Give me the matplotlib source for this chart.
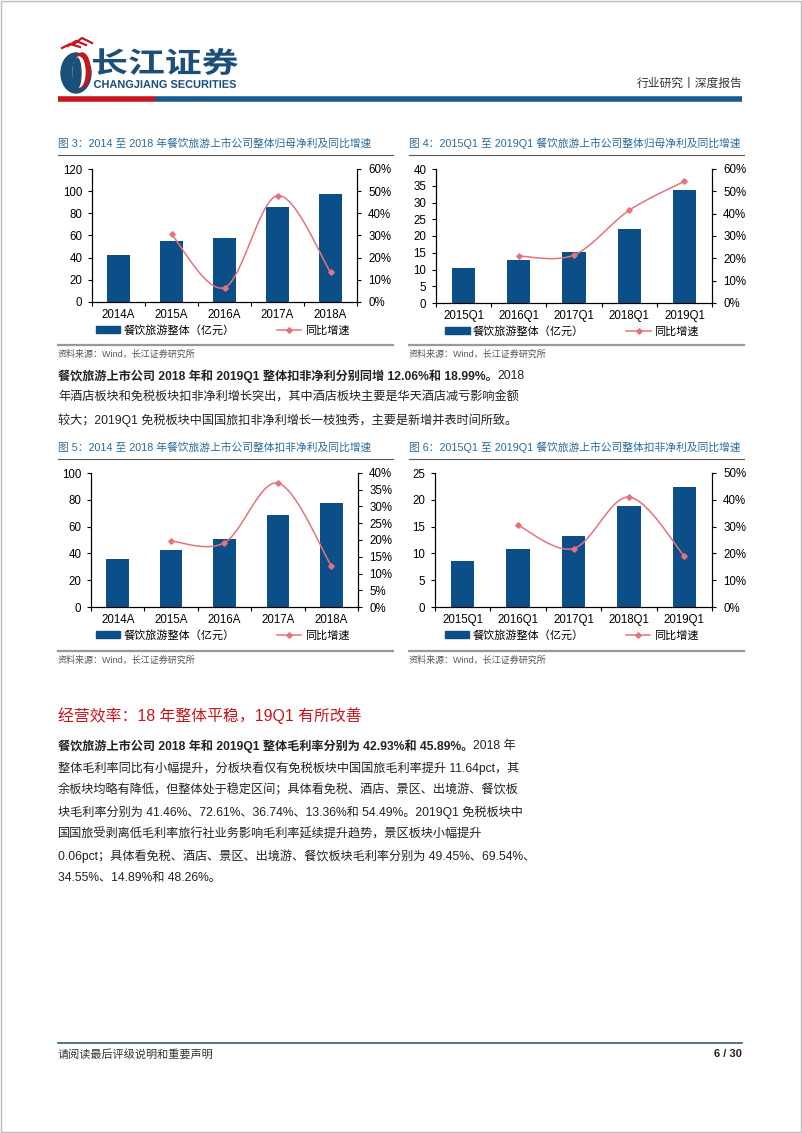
import numpy as np
import matplotlib
matplotlib.use("Agg")
import matplotlib.pyplot as plt
from matplotlib.patches import Ellipse, PathPatch, Rectangle
from matplotlib.textpath import TextPath
from matplotlib.font_manager import FontProperties
from matplotlib.transforms import Affine2D
from matplotlib.lines import Line2D
from matplotlib.ticker import FuncFormatter, MultipleLocator

plt.rcParams["font.family"] = ["Liberation Sans", "Noto Sans CJK SC", "DejaVu Sans"]

W, H, DPI = 802, 1133, 100

BAR = "#0C4F88"
LINE = "#E5737B"
TITLE = "#2A6A9C"
RED = "#C8161D"
TXT = "#222222"
MUTED = "#555555"
BODY_FS = 8.75

# ---------------------------------------------------------------- data
years = ["2014A", "2015A", "2016A", "2017A", "2018A"]
quarters = ["2015Q1", "2016Q1", "2017Q1", "2018Q1", "2019Q1"]

# 图3 归母净利（年度）
np_year = [42, 55, 58, 86, 97]
np_year_yoy = [None, 30.5, 6.5, 48.0, 13.5]
# 图4 归母净利（Q1）
np_q1 = [10.5, 12.7, 15.3, 22.0, 33.6]
np_q1_yoy = [None, 21.0, 21.5, 41.5, 54.5]
# 图5 扣非净利（年度）
kf_year = [36, 42.5, 51, 69, 77.5]
kf_year_yoy = [None, 19.7, 19.2, 37.0, 12.3]
# 图6 扣非净利（Q1）
kf_q1 = [8.5, 10.9, 13.3, 18.8, 22.3]
kf_q1_yoy = [None, 30.5, 21.8, 41.0, 19.0]

fig = plt.figure(figsize=(W / DPI, H / DPI), dpi=DPI, facecolor="white")
page = fig.add_axes([0, 0, 1, 1], zorder=5)
page.set_xlim(0, W); page.set_ylim(H, 0); page.axis("off")
page.patch.set_alpha(0)


def px(x):
    return x / W


def py(y):
    return 1 - y / H


def smooth(xs, ys, n=40):
    # Catmull-Rom, como a linha suavizada do Excel
    pts = np.column_stack([xs, ys]).astype(float)
    P = np.vstack([pts[0], pts, pts[-1]])
    t = np.linspace(0, 1, n)[:, None]
    segs = []
    for i in range(1, len(P) - 2):
        p0, p1, p2, p3 = P[i - 1], P[i], P[i + 1], P[i + 2]
        c = 0.5 * (2 * p1 + (-p0 + p2) * t + (2 * p0 - 5 * p1 + 4 * p2 - p3) * t ** 2
                   + (-p0 + 3 * p1 - 3 * p2 + p3) * t ** 3)
        segs.append(c)
    return np.vstack(segs)


def chart(box, title, cats, bars, yoy, lmax, lstep, rmax, rstep, src_y):
    x0, y0, x1, y1 = box
    lx0 = 58 if x0 < 200 else 409
    # titulo + linhas
    page.text(lx0, y0 - 26, title, color=TITLE, fontsize=7.75, va="center")
    page.plot([lx0, lx0 + 335], [y0 - 14, y0 - 14], color="#555555", lw=0.8)
    page.plot([lx0, lx0 + 335], [src_y - 9, src_y - 9], color="#999999", lw=1.6)
    page.text(lx0, src_y, "资料来源：Wind，长江证券研究所", color=MUTED, fontsize=6.5, va="center")

    ax = fig.add_axes([px(x0), py(y1), px(x1) - px(x0), py(y0) - py(y1)])
    xs = np.arange(len(cats))
    ax.bar(xs, bars, width=0.42, color=BAR, zorder=2)
    ax.set_xlim(-0.5, len(cats) - 0.5)
    ax.set_ylim(0, lmax)
    ax.yaxis.set_major_locator(MultipleLocator(lstep))
    ax.set_xticks(xs)
    ax.set_xticklabels(cats)
    ax.set_xticks(np.arange(len(cats) + 1) - 0.5, minor=True)
    ax.tick_params(axis="x", which="major", length=0, pad=5, labelsize=8.3)
    ax.tick_params(axis="x", which="minor", length=3, direction="out", width=0.8)
    ax.tick_params(axis="y", length=3, direction="out", pad=4, labelsize=8.3, width=0.8)
    ax.spines["top"].set_visible(False)
    for s in ("left", "bottom", "right"):
        ax.spines[s].set_linewidth(0.8)

    ax2 = ax.twinx()
    idx = [i for i, v in enumerate(yoy) if v is not None]
    vals = [yoy[i] for i in idx]
    curve = smooth(idx, vals)
    ax2.plot(curve[:, 0], curve[:, 1], color=LINE, lw=1.1, zorder=3)
    ax2.plot(idx, vals, ls="none", marker="D", ms=2.8, color=LINE, zorder=4)
    ax2.set_ylim(0, rmax)
    ax2.yaxis.set_major_locator(MultipleLocator(rstep))
    ax2.yaxis.set_major_formatter(FuncFormatter(lambda v, p: f"{v:.0f}%"))
    ax2.tick_params(axis="y", length=3, direction="out", pad=5, labelsize=8.3, width=0.8)
    ax2.spines["top"].set_visible(False)
    ax2.spines["right"].set_linewidth(0.8)

    hb = Rectangle((0, 0), 1, 1, color=BAR)
    hl = Line2D([], [], color=LINE, lw=1.1, marker="D", ms=2.8)
    fig.legend([hb, hl], ["餐饮旅游整体（亿元）", "同比增速"], loc="center",
               bbox_to_anchor=(px((x0 + x1) / 2 - 2), py(y1 + 28)), ncol=2, frameon=False,
               fontsize=8, handlelength=2.2, handleheight=0.55, handletextpad=0.3,
               columnspacing=3.8)
    return ax


chart((92, 169, 357, 302), "图 3：2014 至 2018 年餐饮旅游上市公司整体归母净利及同比增速",
      years, np_year, np_year_yoy, 120, 20, 60, 10, 354)
chart((436, 169, 712, 303), "图 4：2015Q1 至 2019Q1 餐饮旅游上市公司整体归母净利及同比增速",
      quarters, np_q1, np_q1_yoy, 40, 5, 60, 10, 354)
chart((91, 473, 358, 607), "图 5：2014 至 2018 年餐饮旅游上市公司整体扣非净利及同比增速",
      years, kf_year, kf_year_yoy, 100, 20, 40, 5, 660)
chart((435, 473, 712, 607), "图 6：2015Q1 至 2019Q1 餐饮旅游上市公司整体扣非净利及同比增速",
      quarters, kf_q1, kf_q1_yoy, 25, 5, 50, 10, 660)

# ---------------------------------------------------------------- cabecalho
page.add_patch(Rectangle((0.5, 0.5), W - 1.5, H - 1.5, fill=False, ec="#BBBBBB", lw=1))
page.add_patch(Ellipse((76, 73), 30, 40, color="#1B4F7A"))
page.add_patch(Ellipse((82, 70), 16, 34, color=RED))
page.add_patch(Ellipse((79, 72), 12, 30, color="white"))
page.add_patch(Ellipse((77, 73), 8, 30, color="#1B4F7A"))
for k in range(3):
    page.plot([62 + 6 * k, 70 + 6 * k, 80 + 6 * k], [48 - k * 2, 44 - k * 3, 47 - k * 2], color=RED, lw=1.6)


def text_box(s, xa, ya, xb, yb, color, weight="bold", family="Noto Sans CJK SC"):
    tp = TextPath((0, 0), s, size=1, prop=FontProperties(family=family, weight=weight))
    bb = tp.get_extents()
    sx = (xb - xa) / bb.width
    sy = (yb - ya) / bb.height
    tr = Affine2D().translate(-bb.x0, -bb.y0).scale(sx, -sy).translate(xa, yb)
    page.add_patch(PathPatch(tr.transform_path(tp), color=color, lw=0))


text_box("长江证券", 93, 48, 238, 75, "#1B4F7A")
text_box("CHANGJIANG SECURITIES", 94, 80, 236, 88, "#1B4F7A", family="Liberation Sans")
page.text(742, 84, "行业研究丨深度报告", ha="right", va="center", fontsize=8.5, color="#333333")
page.plot([58, 155], [99, 99], color=RED, lw=4, solid_capstyle="butt")
page.plot([155, 742], [99, 99], color="#1B5A8C", lw=4, solid_capstyle="butt")

# ---------------------------------------------------------------- texto
renderer = fig.canvas.get_renderer()


def mixed(x, y, bold, rest):
    t = page.text(x, y, bold, fontsize=BODY_FS, weight="bold", color=TXT, va="center")
    bb = t.get_window_extent(renderer)
    page.text(x + bb.width, y, rest, fontsize=BODY_FS, color=TXT, va="center")


mixed(58, 376, "餐饮旅游上市公司 2018 年和 2019Q1 整体扣非净利分别同增 12.06%和 18.99%。", "2018")
para1 = ["年酒店板块和免税板块扣非净利增长突出，其中酒店板块主要是华天酒店减亏影响金额",
         "较大；2019Q1 免税板块中国国旅扣非净利增长一枝独秀，主要是新增并表时间所致。"]
for i, s in enumerate(para1):
    page.text(58, 398 + 22 * i, s, fontsize=BODY_FS, color=TXT, va="center")

page.text(58, 716, "经营效率：18 年整体平稳，19Q1 有所改善", fontsize=11.4, color=RED, va="center")

mixed(58, 746, "餐饮旅游上市公司 2018 年和 2019Q1 整体毛利率分别为 42.93%和 45.89%。", "2018 年")
para2 = ["整体毛利率同比有小幅提升，分板块看仅有免税板块中国国旅毛利率提升 11.64pct，其",
         "余板块均略有降低，但整体处于稳定区间；具体看免税、酒店、景区、出境游、餐饮板",
         "块毛利率分别为 41.46%、72.61%、36.74%、13.36%和 54.49%。2019Q1 免税板块中",
         "国国旅受剥离低毛利率旅行社业务影响毛利率延续提升趋势，景区板块小幅提升",
         "0.06pct；具体看免税、酒店、景区、出境游、餐饮板块毛利率分别为 49.45%、69.54%、",
         "34.55%、14.89%和 48.26%。"]
for i, s in enumerate(para2):
    page.text(58, 768 + 22 * i, s, fontsize=BODY_FS, color=TXT, va="center")

# ---------------------------------------------------------------- rodape
page.plot([58, 742], [1043, 1043], color="#2F5F70", lw=1.2)
page.text(58, 1054, "请阅读最后评级说明和重要声明", fontsize=8, color="#333333", va="center")
page.text(742, 1054, "6 / 30", fontsize=8, weight="bold", color="#222222", va="center", ha="right")

fig.savefig("out.png", dpi=DPI, facecolor="white")
